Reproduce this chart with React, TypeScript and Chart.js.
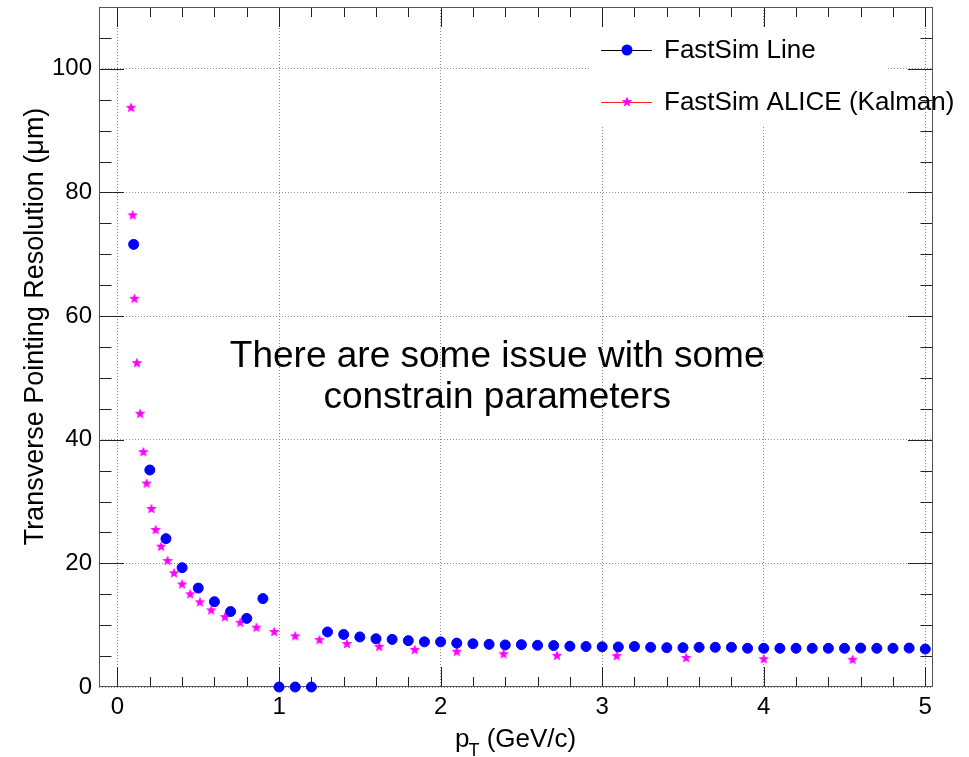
import React, { useEffect, useRef } from "react";
import { Chart, registerables } from "chart.js";

Chart.register(...registerables);

// ---------- data ----------
const lineX = [
  0.1, 0.2, 0.3, 0.4, 0.5, 0.6, 0.7, 0.8, 0.9, 1.0,
  1.1, 1.2, 1.3, 1.4, 1.5, 1.6, 1.7, 1.8, 1.9, 2.0,
  2.1, 2.2, 2.3, 2.4, 2.5, 2.6, 2.7, 2.8, 2.9, 3.0,
  3.1, 3.2, 3.3, 3.4, 3.5, 3.6, 3.7, 3.8, 3.9, 4.0,
  4.1, 4.2, 4.3, 4.4, 4.5, 4.6, 4.7, 4.8, 4.9, 5.0,
];
const lineY = [
  71.6, 35.1, 24.0, 19.3, 16.0, 13.8, 12.2, 11.1, 14.3, 0,
  0, 0, 8.9, 8.5, 8.1, 7.8, 7.7, 7.5, 7.3, 7.3,
  7.1, 7.0, 6.9, 6.8, 6.85, 6.75, 6.7, 6.6, 6.55, 6.5,
  6.48, 6.55, 6.42, 6.36, 6.36, 6.42, 6.42, 6.42, 6.27, 6.26,
  6.26, 6.26, 6.26, 6.26, 6.26, 6.3, 6.26, 6.26, 6.3, 6.14,
];

const kalmanX = [
  0.084, 0.094, 0.105, 0.12, 0.14, 0.16, 0.18, 0.21, 0.236, 0.27,
  0.31, 0.35, 0.40, 0.45, 0.51, 0.58, 0.665, 0.76, 0.86, 0.97,
  1.10, 1.25, 1.42, 1.62, 1.84, 2.10, 2.39, 2.72, 3.09, 3.52,
  4.00, 4.55,
];
const kalmanY = [
  93.7, 76.3, 62.8, 52.4, 44.2, 38.0, 32.9, 28.8, 25.4, 22.7,
  20.4, 18.4, 16.6, 15.0, 13.7, 12.4, 11.3, 10.4, 9.6, 8.9,
  8.2, 7.6, 6.95, 6.5, 6.0, 5.7, 5.3, 5.05, 5.0, 4.7,
  4.5, 4.4,
];

const xTicks = [0, 1, 2, 3, 4, 5];
const yTicks = [0, 20, 40, 60, 80, 100];
const seriesNames = ["FastSim Line", "FastSim ALICE (Kalman)"];
const noteLines = ["There are some issue with some", "constrain parameters"];
const xTitleParts = ["p", "T", " (GeV/c)"];
const yTitle = "Transverse Pointing Resolution (\u03bcm)";

const FONT = "'Liberation Sans', Arial, Helvetica, sans-serif";

function makeStar(color: string, R: number, r: number) {
  const size = Math.ceil(R * 2) + 2;
  const c = document.createElement("canvas");
  c.width = size;
  c.height = size;
  const g = c.getContext("2d")!;
  g.fillStyle = color;
  g.beginPath();
  for (let i = 0; i < 10; i++) {
    const ang = -Math.PI / 2 + (i * Math.PI) / 5;
    const rad = i % 2 ? r : R;
    const px = size / 2 + rad * Math.cos(ang);
    const py = size / 2 + rad * Math.sin(ang);
    if (i === 0) g.moveTo(px, py);
    else g.lineTo(px, py);
  }
  g.closePath();
  g.fill();
  return c;
}

export default function App() {
  const ref = useRef<HTMLCanvasElement | null>(null);

  useEffect(() => {
    const canvas = ref.current;
    if (!canvas) return;
    const star = makeStar("#ff00ff", 5.6, 2.4);

    const framePlugin = {
      id: "rootFrame",
      beforeDatasetsDraw(chart: any) {
        const { ctx, chartArea: a, scales } = chart;
        const xs = scales.x;
        const ys = scales.y;
        ctx.save();
        ctx.strokeStyle = "#222";
        ctx.lineWidth = 1;
        ctx.beginPath();
        for (let i = 0; i <= 25; i++) {
          const v = i * 0.2;
          const px = Math.round(xs.getPixelForValue(v)) + 0.5;
          if (px < a.left || px > a.right) continue;
          const len = i % 5 === 0 ? 20 : 10;
          ctx.moveTo(px, a.bottom);
          ctx.lineTo(px, a.bottom - len);
          ctx.moveTo(px, a.top);
          ctx.lineTo(px, a.top + len);
        }
        for (let i = 0; i <= 22; i++) {
          const v = i * 5;
          const py = Math.round(ys.getPixelForValue(v)) + 0.5;
          if (py < a.top || py > a.bottom) continue;
          const len = i % 4 === 0 ? 25 : 12.5;
          ctx.moveTo(a.left, py);
          ctx.lineTo(a.left + len, py);
          ctx.moveTo(a.right, py);
          ctx.lineTo(a.right - len, py);
        }
        ctx.stroke();
        ctx.strokeStyle = "#555";
        ctx.strokeRect(a.left + 0.5, a.top + 0.5, a.right - a.left - 1, a.bottom - a.top - 1);
        ctx.restore();
      },
      afterDraw(chart: any) {
        const { ctx, chartArea: a, scales } = chart;
        const xs = scales.x;
        const ys = scales.y;
        ctx.save();
        // legend
        const bx = a.right - 342;
        const by = a.top + 20;
        ctx.fillStyle = "#fff";
        ctx.fillRect(bx, by, 295, 100);
        const rows = [by + 23, by + 75];
        const lx0 = bx + 10;
        const lx1 = bx + 61;
        const mx = bx + 36;
        // row 1
        ctx.strokeStyle = "#000";
        ctx.lineWidth = 1;
        ctx.beginPath();
        ctx.moveTo(lx0, rows[0] + 0.5);
        ctx.lineTo(lx1, rows[0] + 0.5);
        ctx.stroke();
        ctx.fillStyle = "#0000ff";
        ctx.beginPath();
        ctx.arc(mx, rows[0], 5.5, 0, Math.PI * 2);
        ctx.fill();
        // row 2
        ctx.strokeStyle = "#ff2020";
        ctx.beginPath();
        ctx.moveTo(lx0, rows[1] + 0.5);
        ctx.lineTo(lx1, rows[1] + 0.5);
        ctx.stroke();
        ctx.drawImage(star, mx - star.width / 2, rows[1] - star.height / 2);
        ctx.fillStyle = "#000";
        ctx.font = `26px ${FONT}`;
        ctx.textAlign = "left";
        ctx.textBaseline = "middle";
        ctx.fillText(seriesNames[0], bx + 73, rows[0] + 1);
        ctx.fillText(seriesNames[1], bx + 73, rows[1] + 1);

        // annotation text
        ctx.font = `37px ${FONT}`;
        ctx.textAlign = "center";
        ctx.textBaseline = "alphabetic";
        const cx = xs.getPixelForValue(2.35);
        ctx.fillText(noteLines[0], cx, ys.getPixelForValue(51.7));
        ctx.fillText(noteLines[1], cx, ys.getPixelForValue(45.2));

        // x title
        ctx.textAlign = "left";
        let tx = 455;
        const base = 747;
        ctx.font = `26px ${FONT}`;
        ctx.fillText(xTitleParts[0], tx, base);
        tx += ctx.measureText(xTitleParts[0]).width - 1;
        ctx.font = `18px ${FONT}`;
        ctx.fillText(xTitleParts[1], tx, base + 9);
        tx += ctx.measureText(xTitleParts[1]).width;
        ctx.font = `26px ${FONT}`;
        ctx.fillText(xTitleParts[2], tx, base);

        // y title
        ctx.save();
        ctx.translate(43, 326.5);
        ctx.rotate(-Math.PI / 2);
        ctx.font = `27px ${FONT}`;
        ctx.textAlign = "center";
        ctx.textBaseline = "alphabetic";
        ctx.fillText(yTitle, 0, 0);
        ctx.restore();

        ctx.restore();
      },
    };

    const gridCommon = {
      color: "#8a8a8a",
      lineWidth: 1,
      drawTicks: false,
    };

    const chart = new Chart(canvas, {
      type: "scatter",
      data: {
        datasets: [
          {
            label: seriesNames[0],
            data: lineX.map((x, i) => ({ x, y: lineY[i] })),
            pointStyle: "circle",
            pointRadius: 5,
            pointBorderWidth: 1,
            backgroundColor: "#0000ff",
            borderColor: "#0000ff",
            showLine: false,
            clip: false,
          },
          {
            label: seriesNames[1],
            data: kalmanX.map((x, i) => ({ x, y: kalmanY[i] })),
            pointStyle: star as any,
            pointRadius: 6,
            backgroundColor: "#ff00ff",
            borderColor: "#ff00ff",
            showLine: false,
            clip: false,
          },
        ],
      },
      options: {
        animation: false,
        responsive: false,
        devicePixelRatio: 1,
        layout: { padding: { top: 5, right: 36, left: 0, bottom: 0 } },
        plugins: {
          legend: { display: false },
          tooltip: { enabled: false },
        },
        scales: {
          x: {
            type: "linear",
            min: -0.1145,
            max: 5.0477,
            afterBuildTicks: (s: any) => {
              s.ticks = xTicks.map((v) => ({ value: v }));
            },
            afterFit: (s: any) => {
              s.height = 70;
              s.paddingLeft = 0;
              s.paddingRight = 0;
              s.paddingTop = 0;
              s.paddingBottom = 0;
            },
            grid: gridCommon,
            border: { display: false, dash: [1, 2] },
            ticks: {
              color: "#000",
              font: { family: FONT, size: 24 },
              padding: 6,
              maxRotation: 0,
              autoSkip: false,
            },
          },
          y: {
            type: "linear",
            min: 0,
            max: 110,
            afterBuildTicks: (s: any) => {
              s.ticks = yTicks.map((v) => ({ value: v }));
            },
            afterFit: (s: any) => {
              s.width = 99;
              s.paddingLeft = 0;
              s.paddingRight = 0;
              s.paddingTop = 0;
              s.paddingBottom = 0;
            },
            grid: gridCommon,
            border: { display: false, dash: [1, 2] },
            ticks: {
              color: "#000",
              font: { family: FONT, size: 24 },
              padding: 7,
              autoSkip: false,
            },
          },
        },
      },
      plugins: [framePlugin],
    } as any);

    return () => chart.destroy();
  }, []);

  return (
    <div style={{ position: "absolute", left: 0, top: 0, width: 969, height: 757, background: "#fff" }}>
      <canvas ref={ref} width={969} height={757} style={{ display: "block" }} />
    </div>
  );
}
